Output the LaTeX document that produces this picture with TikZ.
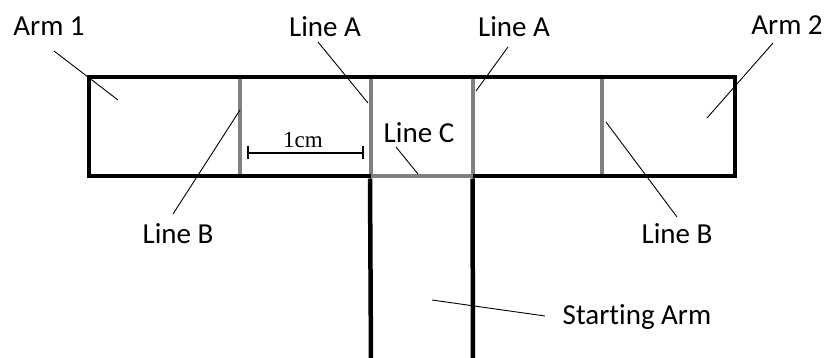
\documentclass[tikz,border=0pt]{standalone}
\usepackage{fontspec}
\setmainfont{Carlito}[Ligatures=NoCommon]
\newfontfamily\serifcm{Liberation Serif}
\definecolor{midgray}{RGB}{128,128,128}
\tikzset{
  outline/.style={draw=black, line width=4.5pt},
  grayline/.style={draw=midgray, line width=4.5pt},
  leader/.style={draw=black, line width=0.9pt},
  lbl/.style={font=\fontsize{29}{32}\selectfont, text=black, inner sep=0pt, anchor=center},
  scalebar/.style={draw=black, line width=1.6pt},
}
\begin{document}
\begin{tikzpicture}[x=1pt,y=-1pt]
\useasboundingbox (0,0) rectangle (830,358);
% coordinates of the shape
\coordinate (bl) at (89,176);
\coordinate (tl) at (89,77);
\coordinate (tr) at (735,77);
\coordinate (br) at (735,176);
\coordinate (sl) at (371,176);
\coordinate (sr) at (473,176);
\coordinate (slb) at (371,362);
\coordinate (srb) at (473,362);
% gray lines
\draw[grayline] (240,79) -- (240,174);
\draw[grayline] (602,79) -- (602,174);
\draw[grayline] (371,79) -- (sl) -- (sr) -- (473,79);
% black outline
\draw[outline, line join=miter] (sl) -- (bl) -- (tl) -- (tr) -- (br) -- (sr);
\draw[outline] (370,178.5) -- (slb);
\draw[outline] (472.5,178.5) -- (srb);
% scale bar
\coordinate (s1) at (248,153);
\coordinate (s2) at (363,153);
\draw[scalebar] (s1) -- (s2);
\draw[scalebar] (248,146) -- (248,159);
\draw[scalebar] (363,146) -- (363,159);
\node[inner sep=0pt, font=\serifcm\fontsize{23}{26}\selectfont] (cm) at (303,140) {1cm};
% labels
\node[lbl] (arm1) at (49,26) {Arm 1};
\node[lbl] (lineA1) at (325,27) {Line A};
\node[lbl] (lineA2) at (514,27) {Line A};
\node[lbl] (arm2) at (787,25) {Arm 2};
\node[lbl] (lineC) at (419,133) {Line C};
\node[lbl] (lineB1) at (178,234) {Line B};
\node[lbl] (lineB2) at (677,234) {Line B};
\node[lbl] (start) at (637,317) {Starting Arm};
% leader ends
\coordinate (a1s) at (54,51);   \coordinate (a1e) at (118,100);
\coordinate (la1s) at (318,42); \coordinate (la1e) at (368,103);
\coordinate (la2s) at (508,47); \coordinate (la2e) at (476,91);
\coordinate (a2s) at (773,43);  \coordinate (a2e) at (707,118);
\coordinate (lcs) at (396,147); \coordinate (lce) at (418,174);
\coordinate (lb1s) at (173,214); \coordinate (lb1e) at (240,110);
\coordinate (lb2s) at (677,217); \coordinate (lb2e) at (606,122);
\coordinate (sts) at (545,316); \coordinate (ste) at (432,300);
\draw[leader] (a1s) -- (a1e);
\draw[leader] (la1s) -- (la1e);
\draw[leader] (la2s) -- (la2e);
\draw[leader] (a2s) -- (a2e);
\draw[leader] (lcs) -- (lce);
\draw[leader] (lb1s) -- (lb1e);
\draw[leader] (lb2s) -- (lb2e);
\draw[leader] (sts) -- (ste);
\end{tikzpicture}
\end{document}
